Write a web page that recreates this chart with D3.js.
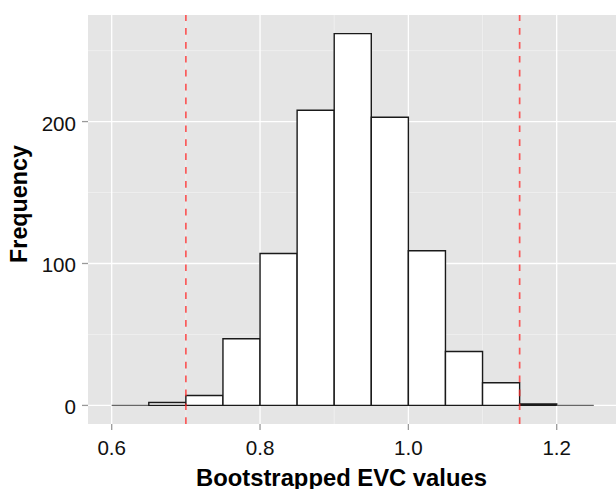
<!DOCTYPE html>
<html><head><meta charset="utf-8">
<script src="https://cdn.jsdelivr.net/npm/d3@7"></script>
<style>body{margin:0;background:#fff}svg{display:block}text{font-family:"Liberation Sans",Arial,sans-serif}</style>
</head><body>
<script>
const binStarts = [0.60,0.65,0.70,0.75,0.80,0.85,0.90,0.95,1.00,1.05,1.10,1.15,1.20];
const counts    = [0,   2,   7,   47,  107, 208, 262, 203, 109, 38,  16,  1,   0];
const binWidth = 0.05;
const cutoffs = [0.70, 1.15];
const xTicks = [0.6,0.8,1.0,1.2];
const xMinor = [0.7,0.9,1.1];
const yTicks = [0,100,200];
const yMinor = [50,150,250];
const xTitle = "Bootstrapped EVC values";
const yTitle = "Frequency";

const W=616,H=489;
const P={l:88,r:618,t:15,b:424};
const svg=d3.select("body").append("svg").attr("width",W).attr("height",H);
const x=d3.scaleLinear().domain([0.5675,1.2825]).range([87.6,617.9]);
const y=d3.scaleLinear().domain([-13.1,275.1]).range([424,15]);

svg.append("rect").attr("x",P.l).attr("y",P.t).attr("width",W-P.l).attr("height",P.b-P.t).attr("fill","#e5e5e5");
const g=svg.append("g");
g.selectAll(".ymn").data(yMinor).join("line").attr("x1",P.l).attr("x2",W).attr("y1",d=>y(d)).attr("y2",d=>y(d)).attr("stroke","#f2f2f2").attr("stroke-width",0.7);
g.selectAll(".xmn").data(xMinor).join("line").attr("y1",P.t).attr("y2",P.b).attr("x1",d=>x(d)).attr("x2",d=>x(d)).attr("stroke","#f2f2f2").attr("stroke-width",0.7);
g.selectAll(".ymj").data(yTicks).join("line").attr("x1",P.l).attr("x2",W).attr("y1",d=>y(d)).attr("y2",d=>y(d)).attr("stroke","#fff").attr("stroke-width",1.3);
g.selectAll(".xmj").data(xTicks).join("line").attr("y1",P.t).attr("y2",P.b).attr("x1",d=>x(d)).attr("x2",d=>x(d)).attr("stroke","#fff").attr("stroke-width",1.3);

// bars
g.selectAll(".bar").data(binStarts.map((s,i)=>({s,c:counts[i]}))).join("path")
 .attr("d",d=>`M${x(d.s)},${y(0)}V${y(d.c)}H${x(d.s+binWidth)}V${y(0)}Z`)
 .attr("fill","#fff").attr("stroke",d=>d.c===0?"#666":"#1a1a1a").attr("stroke-width",1.4);

// cutoff lines
g.selectAll(".cut").data(cutoffs).join("line").attr("x1",d=>x(d)).attr("x2",d=>x(d)).attr("y1",P.b).attr("y2",P.t)
 .attr("stroke","#ff2a2a").attr("stroke-opacity",0.75).attr("stroke-width",1.7).attr("stroke-dasharray","6.7,7.2");

// axes ticks
g.selectAll(".yt").data(yTicks).join("line").attr("x1",P.l-6).attr("x2",P.l).attr("y1",d=>y(d)).attr("y2",d=>y(d)).attr("stroke","#999").attr("stroke-width",1.3);
g.selectAll(".xt").data(xTicks).join("line").attr("y1",P.b).attr("y2",P.b+6).attr("x1",d=>x(d)).attr("x2",d=>x(d)).attr("stroke","#999").attr("stroke-width",1.3);
g.selectAll(".yl").data(yTicks).join("text").attr("x",76).attr("y",d=>y(d)+9).attr("text-anchor","end").attr("font-size",20.6).attr("fill","#111").text(d=>d);
g.selectAll(".xl").data(xTicks).join("text").attr("x",d=>x(d)).attr("y",455).attr("text-anchor","middle").attr("font-size",20.6).attr("fill","#111").text(d=>d.toFixed(1));

svg.append("text").attr("x",341.5).attr("y",485.5).attr("text-anchor","middle").attr("font-size",23.8).attr("font-weight","bold").text(xTitle);
svg.append("text").attr("transform","translate(27,204) rotate(-90)").attr("text-anchor","middle").attr("font-size",23.3).attr("font-weight","bold").text(yTitle);
</script>
</body></html>
